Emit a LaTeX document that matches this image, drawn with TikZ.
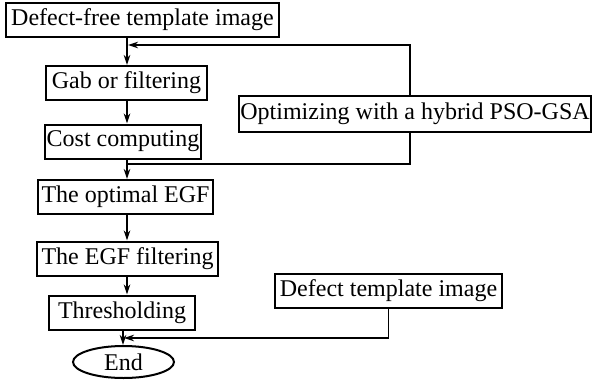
\documentclass[tikz,border=0pt]{standalone}
\usepackage{fontspec}
\setmainfont{Liberation Serif}
\usetikzlibrary{arrows.meta,shapes.geometric}
\begin{document}
\begin{tikzpicture}[x=1pt,y=-1pt,
  box/.style={draw,line width=2pt,inner sep=0pt,minimum height=34pt,
    font=\fontsize{24}{27}\selectfont},
  term/.style={draw,ellipse,line width=2pt,inner sep=0pt,
    font=\fontsize{24}{27}\selectfont},
  link/.style={line width=1.3pt},
  arr/.style={link,-{Stealth[length=10pt,width=6.5pt]}}]
\useasboundingbox (0,0) rectangle (592,381);

% process boxes
\node[box,minimum width=273pt] (b1) at (142.5,19.5) {Defect-free template image};
\node[box,minimum width=161pt] (b2) at (126.5,83) {Gab or filtering};
\node[box,minimum width=156pt] (b3) at (123,141.5) {Cost computing};
\node[box,minimum width=175pt] (b4) at (125.5,197) {The optimal EGF};
\node[box,minimum width=181pt] (b5) at (127.5,258.5) {The EGF filtering};
\node[box,minimum width=146pt] (b6) at (122,312.5) {Thresholding};
\node[term,minimum width=101pt,minimum height=32pt] (end) at (123.5,362) {End};
\node[box,minimum width=352pt,minimum height=36pt] (opt) at (415,113.5) {Optimizing with a hybrid PSO-GSA};
\node[box,minimum width=227pt] (def) at (388.5,290.5) {Defect template image};

% guide coordinates for the main flow line and the loop
\coordinate (mx) at (127,0);
\coordinate (lx) at (123,0);
\coordinate (fx) at (410,0);
\coordinate (fin) at (128,45);
\coordinate (jn) at (127,164);
\coordinate (mg) at (124,338);

% main flow
\draw[arr] (b1.south -| mx) -- (b2.north -| mx);
\draw[arr] (b2.south -| mx) -- (b3.north -| mx);
\draw[arr] (b3.south -| mx) -- (b4.north -| mx);
\draw[arr] (b4.south -| mx) -- (b5.north -| mx);
\draw[arr] (b5.south -| mx) -- (b6.north -| mx);
\draw[arr] (b6.south -| lx) -- (end.north -| lx);

% optimisation loop
\draw[arr] (opt.north -| fx) |- (fin);
\draw[link] (opt.south -| fx) |- (jn);

% defect template joins before the end
\draw[arr] (def.south) |- (mg);
\end{tikzpicture}
\end{document}
